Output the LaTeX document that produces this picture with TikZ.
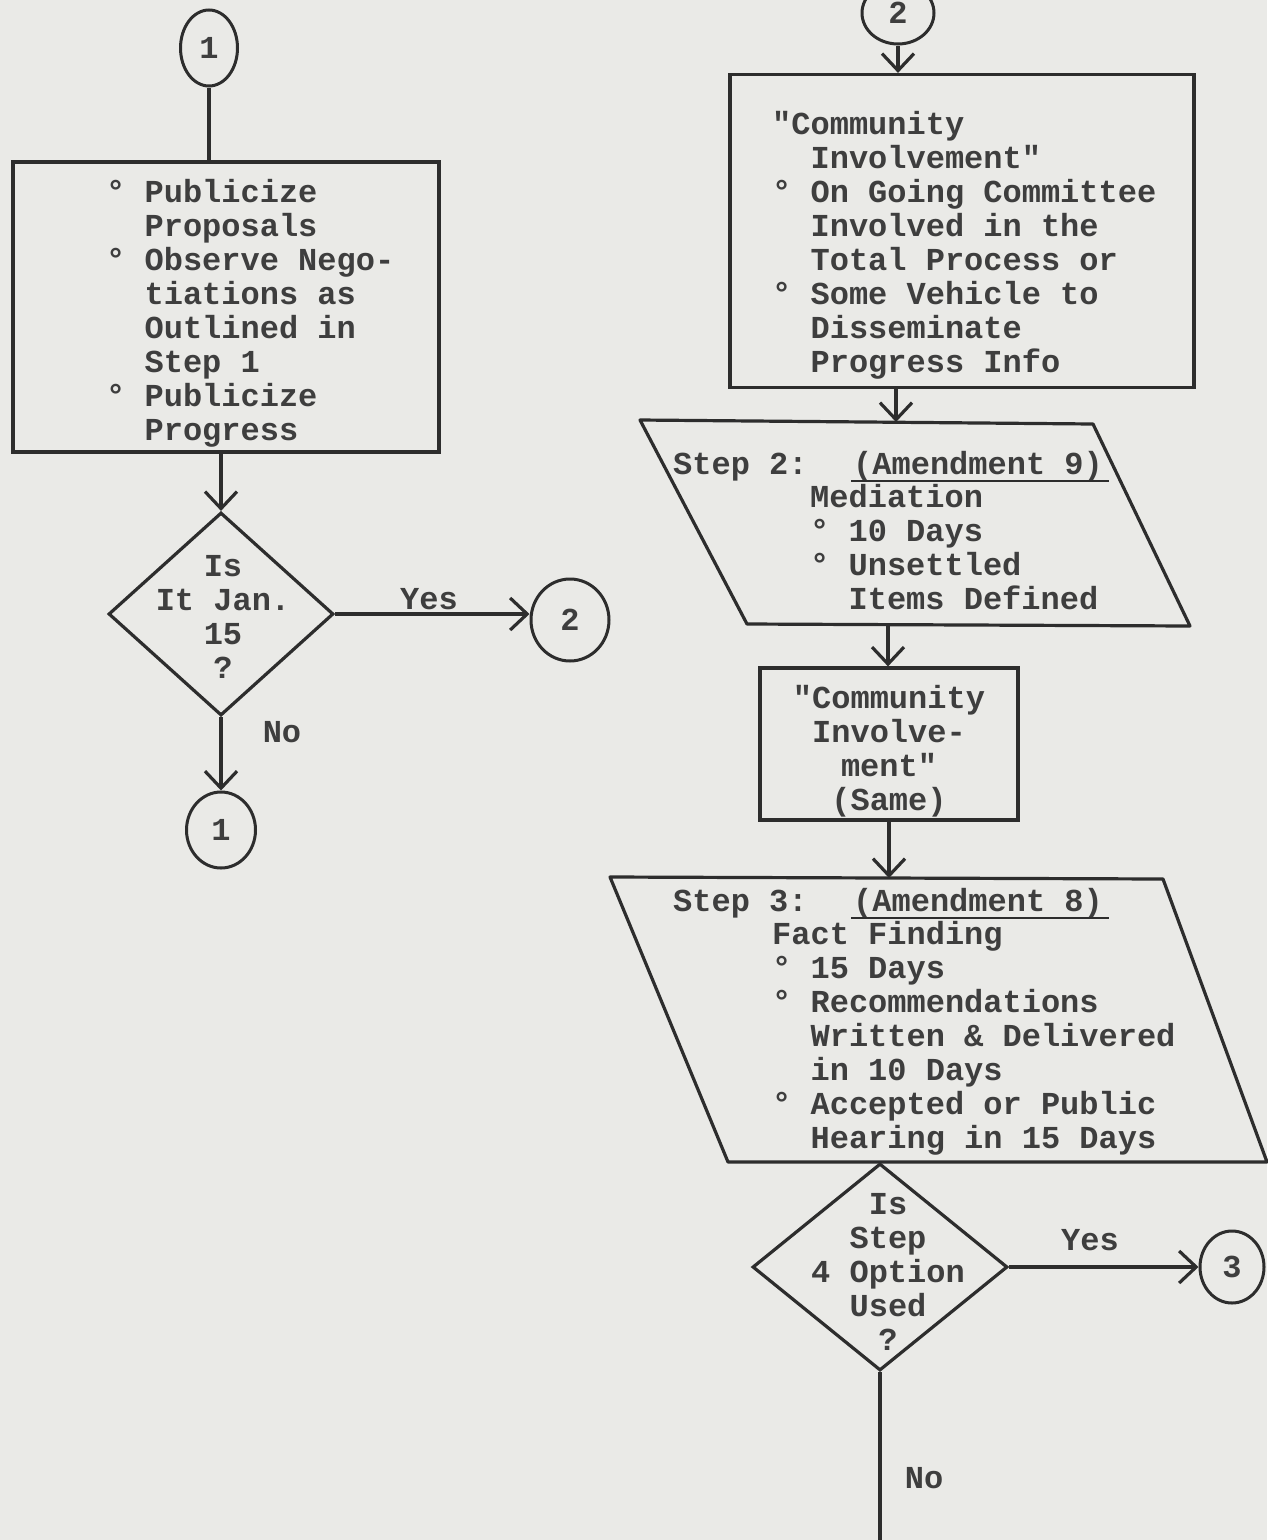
\documentclass[tikz,border=0pt]{standalone}
\usepackage{fontspec}
\newfontfamily\tw{Liberation Mono}
\usetikzlibrary{arrows.meta,shapes.geometric}
\definecolor{paper}{RGB}{234,234,231}
\definecolor{ink}{RGB}{45,45,45}
\definecolor{txt}{RGB}{62,62,62}
\newcommand\ind{\hspace*{1.2em}}
\begin{document}
\begin{tikzpicture}[x=1pt,y=-1pt,
  line/.style={draw=ink,line width=3.2pt},
  arr/.style={line,-{Straight Barb[length=17pt,width=32pt]}},
  boxnode/.style={draw=ink,line width=3.2pt,inner sep=0pt},
  decision/.style={draw=ink,line width=3.2pt,shape=diamond,inner sep=0pt},
  conn/.style={draw=ink,line width=3pt,shape=ellipse,inner sep=0pt,
    font=\tw\bfseries\fontsize{32}{34}\selectfont,text=txt},
  tx/.style={inner sep=0pt,align=left,text=txt,
    font=\tw\bfseries\fontsize{32}{34}\selectfont},
  txc/.style={tx,align=center},
  lab/.style={inner sep=0pt,text=txt,font=\tw\bfseries\fontsize{32}{34}\selectfont}]
\fill[paper] (0,0) rectangle (1267,1540);
\useasboundingbox (0,0) rectangle (1267,1540);

% ---------- left column ----------
\node[conn,minimum width=57pt,minimum height=76pt] (c1a) at (209,48) {1};
\node[boxnode,minimum width=426pt,minimum height=290pt] (b1) at (226,307) {};
\node[tx,anchor=north west] (t1) at (106,178) {\strut° Publicize\\
\ind Proposals\\
° Observe Nego-\\
\ind tiations as\\
\ind Outlined in\\
\ind Step 1\\
° Publicize\\
\ind Progress};
\node[decision,minimum width=225pt,minimum height=203pt] (d1) at (221,614) {};
\node[txc,anchor=north] (td1) at (223,552) {\strut Is\\It Jan.\\15\\?};
\node[conn,minimum width=78pt,minimum height=82pt] (c2a) at (570,620) {2};
\node[conn,minimum width=69pt,minimum height=76pt] (c1b) at (221,830) {1};
\node[lab] (yes1) at (429,599) {Yes};
\node[lab] (no1) at (282,732) {No};

\draw[line] (c1a.south) -- (c1a.south |- b1.north);
\draw[arr] (d1.north |- b1.south) -- (d1.north);
\draw[arr] (d1.east) -- (d1.east -| c2a.west);
\draw[arr] (d1.south) -- (d1.south |- c1b.north);

% ---------- right column ----------
\node[conn,minimum width=72pt,minimum height=62pt] (c2b) at (898,13) {2};
\node[boxnode,minimum width=464pt,minimum height=313pt] (b2) at (962,231) {};
\node[tx,anchor=north west] (t2) at (772,110) {\strut"Community\\
\ind Involvement"\\
° On Going Committee\\
\ind Involved in the\\
\ind Total Process or\\
° Some Vehicle to\\
\ind Disseminate\\
\ind Progress Info};

% Step 2 parallelogram
\coordinate (p1a) at (640,420);
\coordinate (p1b) at (1093,424);
\coordinate (p1c) at (1190,626);
\coordinate (p1d) at (747,624);
\coordinate (p1n) at (896,422);
\coordinate (p1s) at (888,625);
\draw[line,line join=round] (p1a) -- (p1b) -- (p1c) -- (p1d) -- cycle;
\node[tx,anchor=north west] (s2) at (673,450) {\strut Step 2:};
\node[tx,anchor=north west] (am9) at (853,450) {\strut(Amendment 9)};
\draw[line,line width=2.4pt] ([xshift=-2pt,yshift=-7pt]am9.base west) -- ([xshift=6pt,yshift=-7pt]am9.base east);
\node[tx,anchor=north west] (t3) at (810,483) {\strut Mediation\\
° 10 Days\\
° Unsettled\\
\ind Items Defined};

\node[boxnode,minimum width=258pt,minimum height=152pt] (b3) at (889,744) {};
\node[txc,anchor=north] (t4) at (889,684) {\strut"Community\\Involve-\\ment"\\(Same)};

% Step 3 parallelogram
\coordinate (p2a) at (610,877);
\coordinate (p2b) at (1163,879);
\coordinate (p2c) at (1267,1162);
\coordinate (p2d) at (728,1162);
\coordinate (p2n) at (889,878);
\draw[line,line join=round] (p2a) -- (p2b) -- (p2c) -- (p2d) -- cycle;
\node[tx,anchor=north west] (s3) at (673,887) {\strut Step 3:};
\node[tx,anchor=north west] (am8) at (853,887) {\strut(Amendment 8)};
\draw[line,line width=2.4pt] ([xshift=-2pt,yshift=-7pt]am8.base west) -- ([xshift=6pt,yshift=-7pt]am8.base east);
\node[tx,anchor=north west] (t5) at (772,920) {\strut Fact Finding\\
° 15 Days\\
° Recommendations\\
\ind Written \& Delivered\\
\ind in 10 Days\\
° Accepted or Public\\
\ind Hearing in 15 Days};

\node[decision,minimum width=255pt,minimum height=207pt] (d2) at (880,1267) {};
\node[txc,anchor=north] (td2) at (888,1190) {\strut Is\\Step\\4 Option\\Used\\?};
\node[conn,minimum width=64pt,minimum height=72pt] (c3) at (1232,1267) {3};
\node[lab] (yes2) at (1090,1240) {Yes};
\node[lab] (no2) at (924,1478) {No};
\coordinate (endc) at (880,1545);

\draw[arr] (c2b.south) -- (c2b.south |- b2.north);
\draw[arr] (p1n |- b2.south) -- (p1n);
\draw[arr] (p1s) -- (p1s |- b3.north);
\draw[arr] (b3.south) -- (p2n);
\draw[arr] (d2.east) -- (d2.east -| c3.west);
\draw[line] (d2.south) -- (endc);
\end{tikzpicture}
\end{document}
